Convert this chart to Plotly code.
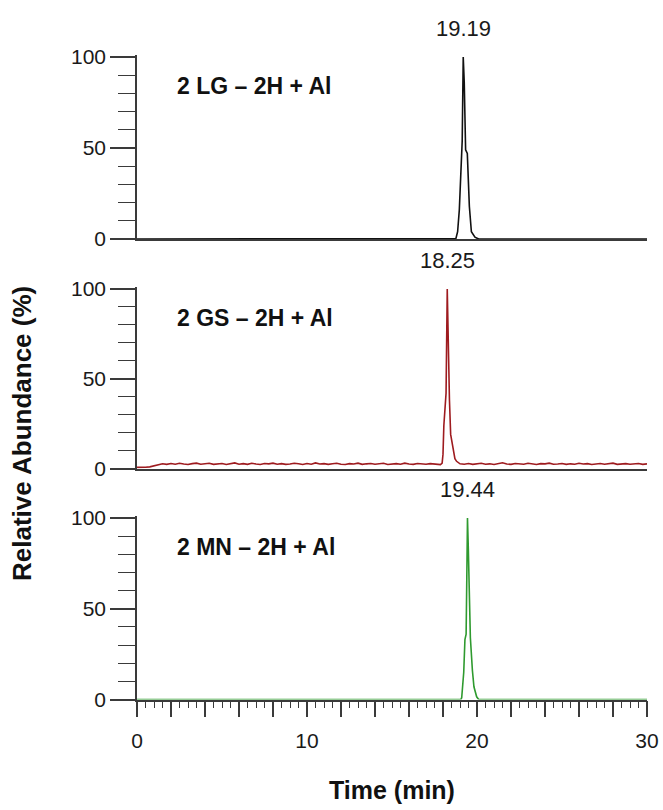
import plotly.graph_objects as go

# ---- data -------------------------------------------------------------
# 2 LG - 2H + Al (black trace): flat baseline and peak at 19.19 min
lg_time = [0.0, 18.70, 18.76, 18.86, 18.96, 19.04, 19.13, 19.19, 19.25, 19.33,
           19.43, 19.55, 19.67, 19.88, 20.10, 30.0]
lg_abund = [0.0, 0.0, 0.3, 4.0, 16.0, 34.0, 54.0, 100.0, 86.0, 49.0,
            47.0, 18.0, 4.0, 1.0, 0.0, 0.0]

# 2 GS - 2H + Al (red trace): noisy baseline, peak at 18.25 min
gs_base_pre = [0.6, 0.5, 0.7, 0.9, 1.5, 2.2, 2.6, 2.3, 2.8, 2.4, 2.9, 2.5,
               2.2, 2.7, 3.0, 2.4, 2.6, 2.9, 2.3, 2.5, 2.8, 2.2, 2.6, 3.1,
               2.4, 2.7, 2.3, 2.9, 2.5, 2.2, 2.8, 2.6, 3.0, 2.4, 2.7, 2.3,
               2.5, 2.9, 2.6, 2.2, 2.8, 2.4, 3.1, 2.5, 2.7, 2.3, 2.6, 2.9,
               2.4, 2.2, 2.7, 2.5, 3.0, 2.3, 2.6, 2.8, 2.4, 2.5, 2.9, 2.2,
               2.6, 2.7, 2.4, 3.0, 2.5, 2.3, 2.8, 2.6, 2.4, 2.7, 2.5, 2.4]
gs_peak_time = [17.85, 17.95, 18.00, 18.05, 18.12, 18.18, 18.25, 18.29,
                18.32, 18.38, 18.45, 18.50, 18.60, 18.70, 18.80, 18.90]
gs_peak_abund = [2.2, 3.0, 8.0, 24.0, 35.0, 42.0, 100.0, 75.0,
                 58.0, 38.0, 19.0, 16.0, 9.0, 5.5, 4.0, 3.0]
gs_base_post = [2.6, 2.4, 2.8, 2.3, 2.5, 2.9, 2.4, 2.6, 2.2, 2.7, 3.2, 2.5,
                2.3, 2.8, 2.6, 2.4, 2.9, 2.5, 2.2, 2.7, 2.6, 3.0, 2.4, 2.5,
                2.8, 2.3, 2.6, 2.4, 2.9, 2.5, 2.7, 2.2, 2.6, 2.8, 2.4, 2.5,
                3.0, 2.3, 2.6, 2.7, 2.4, 2.5, 2.8, 2.3, 2.6]

# 2 MN - 2H + Al (green trace): flat baseline and peak at 19.44 min
mn_time = [0.0, 19.05, 19.10, 19.22, 19.29, 19.36, 19.40, 19.44, 19.49,
           19.55, 19.61, 19.73, 19.82, 19.98, 20.10, 30.0]
mn_abund = [0.0, 0.0, 1.0, 15.0, 33.0, 36.0, 67.0, 100.0, 83.0,
            51.0, 34.0, 16.0, 7.0, 1.5, 0.0, 0.0]

panel_labels = ["2 LG \u2013 2H + Al", "2 GS \u2013 2H + Al", "2 MN \u2013 2H + Al"]
peak_labels = ["19.19", "18.25", "19.44"]
peak_times = [19.19, 18.25, 19.44]
trace_colors = ["#111111", "#9e1b1f", "#2f9a2f"]

x_tick_vals = list(range(0, 31, 2))
x_tick_text = [str(v) if v % 10 == 0 else "" for v in x_tick_vals]

# sampling grid for the GS baseline (0.25 min steps)
gs_pre_time = [round(0.25 * i, 2) for i in range(len(gs_base_pre))]
gs_post_time = [round(19.0 + 0.25 * i, 2) for i in range(len(gs_base_post))]
gs_time = gs_pre_time + gs_peak_time + gs_post_time
gs_abund = gs_base_pre + gs_peak_abund + gs_base_post

series = [(lg_time, lg_abund), (gs_time, gs_abund), (mn_time, mn_abund)]

# ---- layout geometry -------------------------------------------------
W, H = 663, 810
FONT = "Liberation Sans, Arial, Helvetica, sans-serif"
AX = "#3a3a3a"
TXT = "#1a1a1a"
x_dom = [137 / W, 647 / W]
y_doms = [[(H - 239) / H, (H - 55.2) / H],
          [(H - 468.5) / H, (H - 287.2) / H],
          [(H - 699.5) / H, (H - 516.2) / H]]

fig = go.Figure()
for i, ((t, a), col) in enumerate(zip(series, trace_colors)):
    sfx = "" if i == 0 else str(i + 1)
    fig.add_trace(go.Scatter(x=t, y=a, mode="lines",
                             line=dict(color=col, width=1.6),
                             xaxis="x" + sfx, yaxis="y" + sfx,
                             showlegend=False, hoverinfo="skip"))

layout = dict(width=W, height=H,
              margin=dict(l=0, r=0, t=0, b=0, pad=0, autoexpand=False),
              plot_bgcolor="white", paper_bgcolor="white",
              font=dict(family=FONT, color=TXT))

for i in range(3):
    sfx = "" if i == 0 else str(i + 1)
    bottom = i == 2
    xa = dict(domain=x_dom, range=[0, 30], anchor="y" + sfx, automargin=False,
              showline=True, linecolor=AX, linewidth=1.5,
              showgrid=False, zeroline=False)
    if bottom:
        xa.update(tickmode="array", tickvals=x_tick_vals, ticktext=x_tick_text,
                  ticks="outside", ticklen=16, tickwidth=1.5, tickcolor=AX,
                  tickfont=dict(size=21, family=FONT, color=TXT),
                  ticklabelstandoff=6,
                  minor=dict(tickmode="linear", tick0=0, dtick=0.5,
                             ticks="outside", ticklen=7, tickwidth=1.3,
                             tickcolor=AX))
    else:
        xa.update(ticks="", showticklabels=False)
    ya = dict(domain=y_doms[i], range=[0, 101], anchor="x" + sfx, automargin=False,
              showline=True, linecolor=AX, linewidth=1.5,
              showgrid=False, zeroline=False,
              tickmode="linear", tick0=0, dtick=50,
              ticks="outside", ticklen=25, tickwidth=1.5, tickcolor=AX,
              tickfont=dict(size=21, family=FONT, color=TXT),
              minor=dict(tickmode="linear", tick0=0, dtick=10,
                         ticks="outside", ticklen=17, tickwidth=1.3,
                         tickcolor=AX))
    layout["xaxis" + sfx] = xa
    layout["yaxis" + sfx] = ya

fig.update_layout(**layout)

annotations = []
for i in range(3):
    sfx = "" if i == 0 else str(i + 1)
    annotations.append(dict(x=2.25, y=84, xref="x" + sfx, yref="y" + sfx,
                            text="<b>" + panel_labels[i] + "</b>",
                            showarrow=False, xanchor="left", yanchor="middle",
                            font=dict(size=23, family=FONT, color="#111111")))
    annotations.append(dict(x=peak_times[i], y=100, xref="x" + sfx, yref="y" + sfx,
                            text=peak_labels[i], showarrow=False,
                            xanchor="center", yanchor="middle", yshift=29,
                            font=dict(size=22, family=FONT, color=TXT)))
annotations.append(dict(x=22 / W, y=(H - 434) / H, xref="paper", yref="paper",
                        text="<b>Relative Abundance (%)</b>", textangle=-90,
                        showarrow=False, xanchor="center", yanchor="middle",
                        font=dict(size=26, family=FONT, color="#111111")))
annotations.append(dict(x=392 / W, y=(H - 790) / H, xref="paper", yref="paper",
                        text="<b>Time (min)</b>",
                        showarrow=False, xanchor="center", yanchor="middle",
                        font=dict(size=25, family=FONT, color="#111111")))
fig.update_layout(annotations=annotations)

fig.write_html("out.html")
